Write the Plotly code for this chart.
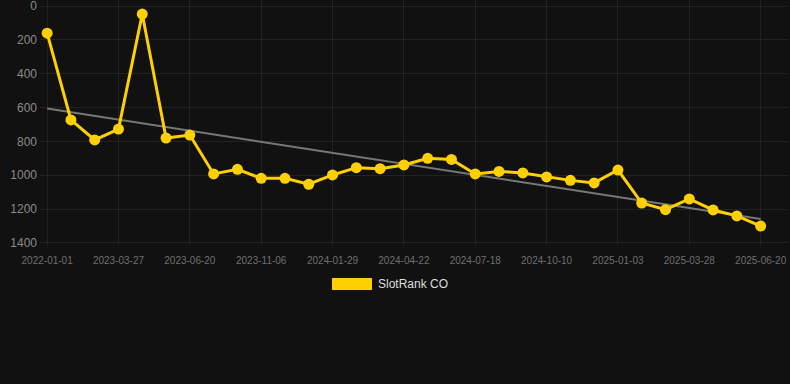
import numpy as np
import plotly.graph_objects as go

series_name = "SlotRank CO"
rank_values = [160, 673, 791, 727, 47, 780, 762, 992, 965, 1018, 1018, 1053, 998, 955, 961,
               939, 900, 906, 992, 977, 986, 1010, 1030, 1045, 969, 1164, 1203, 1140, 1205,
               1240, 1300]
tick_labels = ["2022-01-01", "2023-03-27", "2023-06-20", "2023-11-06", "2024-01-29",
               "2024-04-22", "2024-07-18", "2024-10-10", "2025-01-03", "2025-03-28",
               "2025-06-20"]
y_ticks = [0, 200, 400, 600, 800, 1000, 1200, 1400]

idx = list(range(len(rank_values)))
tick_idx = idx[::3]

coef = np.polyfit(idx, rank_values, 1)
trend_x = [idx[0], idx[-1]]
trend_y = [float(np.polyval(coef, v)) for v in trend_x]

GOLD = "#FFD000"
fig = go.Figure()
fig.add_trace(go.Scatter(x=trend_x, y=trend_y, mode="lines",
                         line=dict(color="#777777", width=2), showlegend=False, hoverinfo="skip"))
fig.add_trace(go.Scatter(x=idx, y=rank_values, mode="lines+markers", name=series_name,
                         line=dict(color=GOLD, width=3), marker=dict(color=GOLD, size=11),
                         showlegend=False))

fig.update_layout(
    width=790, height=384,
    paper_bgcolor="#111111", plot_bgcolor="#111111",
    margin=dict(l=40, r=2, t=0, b=139),
    showlegend=False,
    font=dict(family="Liberation Sans, Arial, sans-serif"),
)
fig.update_xaxes(range=[-0.3, 31.15], tickmode="array", tickvals=tick_idx, ticktext=tick_labels,
                 showgrid=True, gridcolor="#222222", gridwidth=1, zeroline=False,
                 tickfont=dict(size=10, color="#6f6f6f"), ticks="", showline=False,
                 ticklabeloverflow="allow", ticklabelstandoff=8)
fig.update_yaxes(range=[1412, -36], tickmode="array", tickvals=y_ticks,
                 showgrid=True, gridcolor="#222222", gridwidth=1, zeroline=False,
                 tickfont=dict(size=12, color="#8a8a8a"), ticks="", showline=False,
                 ticklabeloverflow="allow", ticklabelstandoff=2)

# legend drawn manually
fig.add_shape(type="rect", xref="paper", yref="paper",
              x0=(332 - 40) / 748, x1=(372 - 40) / 748,
              y0=-(290 - 245) / 245, y1=-(278 - 245) / 245,
              fillcolor=GOLD, line=dict(width=0))
fig.add_annotation(xref="paper", yref="paper", x=(376 - 40) / 748, y=-(284 - 245) / 245,
                   text=series_name, showarrow=False, xanchor="left", yanchor="middle",
                   font=dict(size=12, color="#dddddd"))

fig.write_html("out.html", config={"displayModeBar": False},
               post_script="document.body.style.margin='0';document.body.style.background='#111111';document.body.style.overflow='hidden';")
